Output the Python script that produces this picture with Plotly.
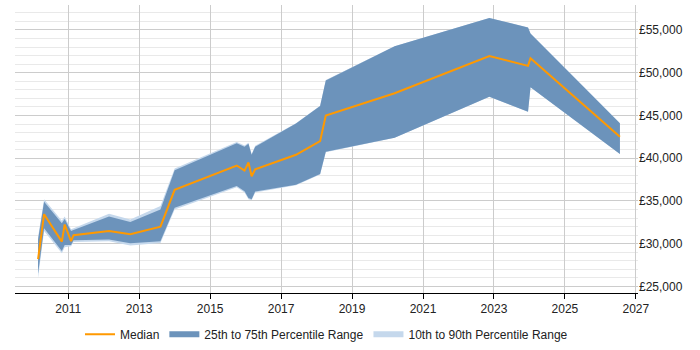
import plotly.graph_objects as go

# decimal years
years = [2010.15, 2010.32, 2010.82, 2010.90, 2011.08, 2011.15, 2012.15, 2012.75, 2013.6, 2014.0,
         2015.75, 2015.97, 2016.08, 2016.17, 2016.27, 2017.42, 2018.1, 2018.26, 2020.2,
         2022.87, 2023.96, 2024.03, 2026.55]
median = [28200, 33450, 30250, 32250, 30300, 31000, 31500, 31100, 32000, 36300,
          39150, 38550, 39500, 37900, 38700, 40400, 42000, 45000, 47600,
          51950, 50800, 51700, 42500]
p25 = [26500, 31800, 29150, 29850, 29850, 30400, 30500, 30050, 30300, 34200,
       36750, 36150, 35350, 35200, 36100, 36900, 38150, 40750, 42400,
       47200, 45450, 48300, 40500]
p75 = [30500, 34900, 32400, 32900, 31500, 31600, 33200, 32550, 34000, 38600,
       41750, 41350, 41700, 40400, 41350, 44050, 46100, 49100, 53100,
       56400, 55300, 54600, 44100]
p10 = [26000, 31500, 28900, 29600, 29700, 30200, 30300, 29800, 30100, 34000,
       36600, 36000, 35200, 35100, 36000, 36850, 38100, 40700, 42400,
       47200, 45450, 48300, 40500]
p90 = [30800, 35200, 32700, 33200, 31700, 31800, 33500, 32850, 34400, 38800,
       41900, 41500, 41800, 40500, 41450, 44100, 46150, 49150, 53100,
       56400, 55300, 54600, 44100]

tick_years = [2011, 2013, 2015, 2017, 2019, 2021, 2023, 2025, 2027]

fig = go.Figure()

fig.add_trace(go.Scatter(
    x=years + years[::-1], y=p10 + p90[::-1], fill="toself", mode="none",
    fillcolor="rgba(197,216,236,1)", name="10th to 90th Percentile Range",
    legendrank=3, hoverinfo="skip"))
fig.add_trace(go.Scatter(
    x=years + years[::-1], y=p25 + p75[::-1], fill="toself", mode="none",
    fillcolor="rgba(108,147,187,1)", name="25th to 75th Percentile Range",
    legendrank=2, hoverinfo="skip"))
fig.add_trace(go.Scatter(
    x=years, y=median, mode="lines", line=dict(color="#ff9900", width=2),
    name="Median", legendrank=1))

fig.update_layout(
    width=700, height=350,
    margin=dict(l=15, r=62, t=5, b=57, autoexpand=False),
    paper_bgcolor="white", plot_bgcolor="white",
    font=dict(family="Liberation Sans, Arial, sans-serif", size=12, color="#222"),
    showlegend=True,
    legend=dict(orientation="h", x=0.5, xanchor="center", xref="paper",
                y=0.045, yanchor="middle", yref="container", itemwidth=30,
                font=dict(size=12), traceorder="normal"),
    xaxis=dict(
        range=[2009.5, 2027.06], tickvals=tick_years, ticktext=[str(t) for t in tick_years],
        showgrid=True, gridcolor="#cccccc", gridwidth=1,
        showline=True, linecolor="#000", linewidth=1,
        ticks="outside", ticklen=5, tickcolor="#000", zeroline=False,
        tickfont=dict(size=12)),
    yaxis=dict(
        side="right", range=[24240, 57920], dtick=5000, tick0=0,
        tickprefix="£", tickformat=",d",
        showgrid=True, gridcolor="#cccccc", gridwidth=1,
        minor=dict(dtick=1000, showgrid=True, gridcolor="#e9e9e9", gridwidth=1),
        showline=False, zeroline=False, ticks="", tickfont=dict(size=12)),
)

fig.write_html("out.html")
